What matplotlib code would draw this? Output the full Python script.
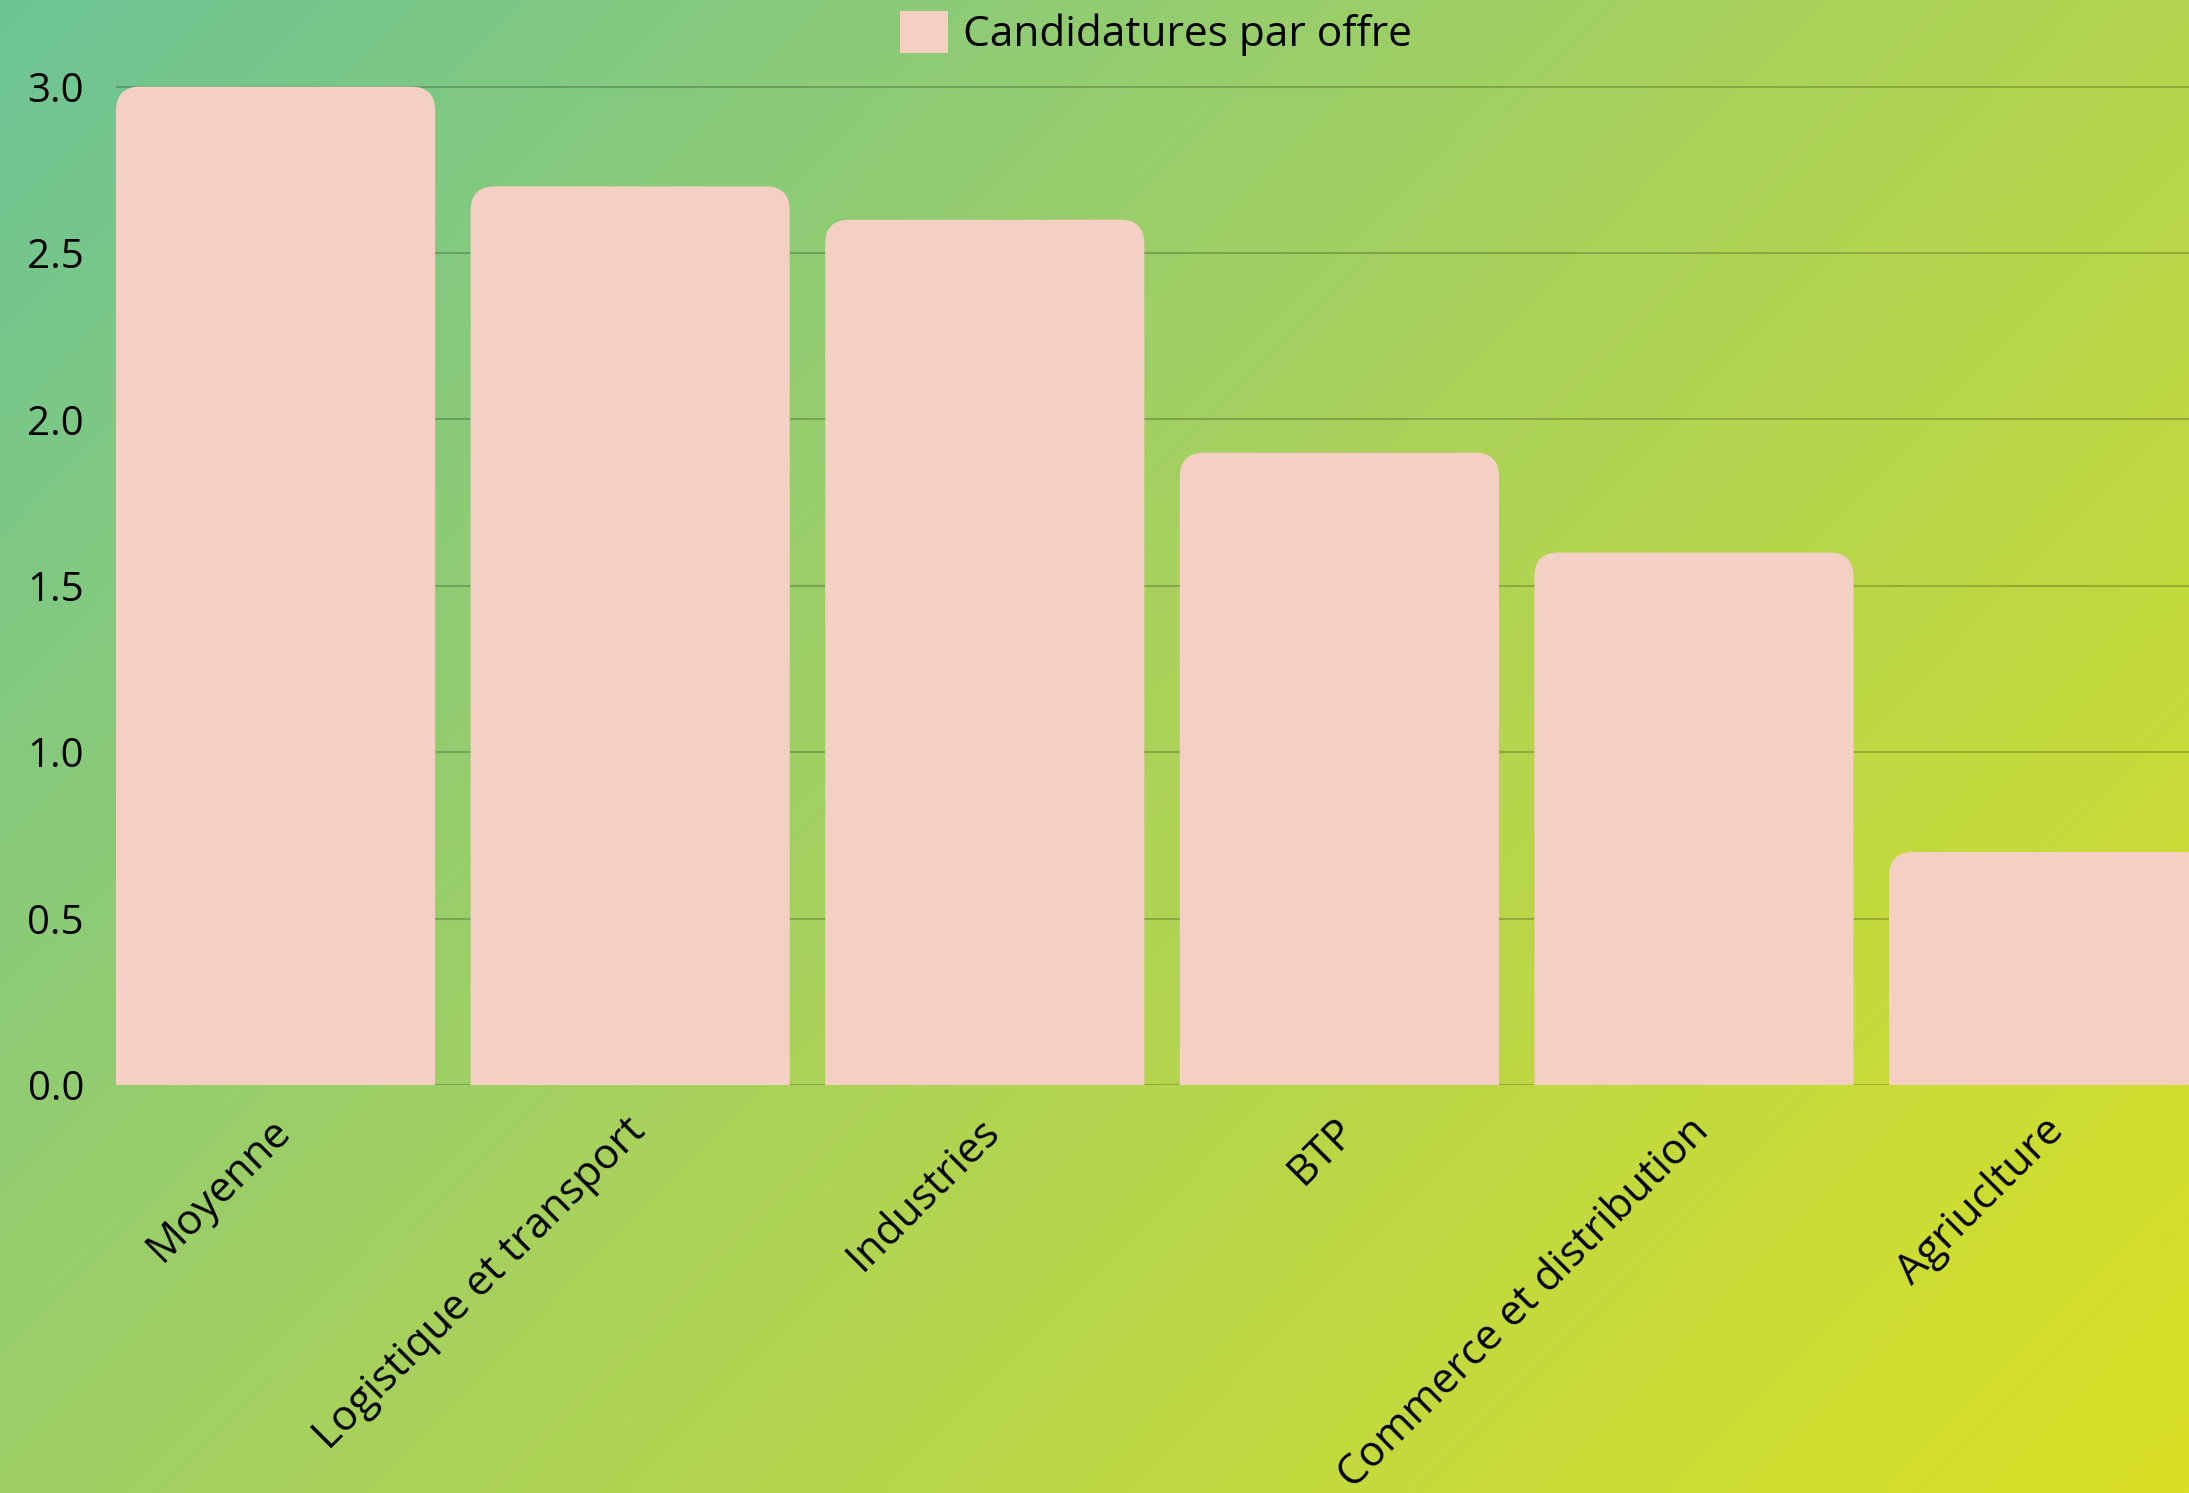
import numpy as np
import matplotlib
matplotlib.use("Agg")
import matplotlib.pyplot as plt
from matplotlib.path import Path
from matplotlib.patches import PathPatch, Patch
import matplotlib.transforms as mtransforms

# ---- data ----
categories = ["Moyenne", "Logistique et transport", "Industries", "BTP",
              "Commerce et distribution", "Agriuclture"]
values = [3.0, 2.7, 2.6, 1.9, 1.6, 0.7]
series_name = "Candidatures par offre"
yticks = [0.0, 0.5, 1.0, 1.5, 2.0, 2.5, 3.0]

BAR_COLOR = "#F4CFC4"
FONT = ["Open Sans", "DejaVu Sans"]
FS = 29
FS_X = 30.5

W_PX, H_PX = 2189, 1493
fig = plt.figure(figsize=(W_PX / 100, H_PX / 100), dpi=100)

# ---- gradient background ----
bg = fig.add_axes([0, 0, 1, 1], zorder=0)
bg.axis("off")
gh, gw = 300, 440
yy, xx = np.mgrid[0:1:gh * 1j, 0:1:gw * 1j]
t = 0.6 * xx + 0.4 * yy
stops_t = [0.0, 0.5, 1.0]
stops_c = np.array([[108, 196, 150], [170, 210, 90], [218, 224, 36]]) / 255.0
img = np.zeros((gh, gw, 3))
for k in range(3):
    img[..., k] = np.interp(t, stops_t, stops_c[:, k])
bg.imshow(img, aspect="auto", extent=[0, 1, 0, 1], origin="upper",
          interpolation="bilinear")
bg.set_xlim(0, 1)
bg.set_ylim(0, 1)

# ---- main axes ----
left = 116 / W_PX
bottom = 1 - 1085 / H_PX
height = (1085 - 70) / H_PX
ax = fig.add_axes([left, bottom, 1 - left, height], zorder=1)
ax.set_facecolor("none")
ax.set_xlim(-0.45, 5.396)
ax.set_ylim(0, 3.05)
for s in ax.spines.values():
    s.set_visible(False)

ax.set_yticks(yticks)
ax.set_yticklabels([f"{v:.1f}" for v in yticks], fontsize=FS, family=FONT)
ax.yaxis.grid(True, color="black", alpha=0.2, linewidth=1.5, zorder=0)
ax.set_axisbelow(True)
ax.tick_params(axis="y", length=0, pad=23)

x = np.arange(len(categories))
bars = ax.bar(x, values, width=0.9, color=BAR_COLOR, zorder=2)

# round the top corners
rx = 24 / 354.6
ry = 24 / 332.8
for rect in bars:
    x0 = rect.get_x()
    x1 = x0 + rect.get_width()
    h = rect.get_height()
    verts = [(x0, 0), (x0, h - ry), (x0, h), (x0 + rx, h), (x1 - rx, h),
             (x1, h), (x1, h - ry), (x1, 0), (x0, 0)]
    codes = [Path.MOVETO, Path.LINETO, Path.CURVE3, Path.CURVE3, Path.LINETO,
             Path.CURVE3, Path.CURVE3, Path.LINETO, Path.CLOSEPOLY]
    rect.set_visible(False)
    ax.add_patch(PathPatch(Path(verts, codes), facecolor=BAR_COLOR,
                           edgecolor="none", zorder=2))

ax.set_xticks(x)
ax.set_xticklabels(categories, fontsize=FS_X, family=FONT, rotation=45,
                   ha="right", rotation_mode="default")
ax.tick_params(axis="x", length=0, pad=18)
offset = mtransforms.ScaledTranslation(24 / 100, 0, fig.dpi_scale_trans)
for lab in ax.get_xticklabels():
    lab.set_transform(lab.get_transform() + offset)

fig.legend(handles=[Patch(facecolor=BAR_COLOR, edgecolor="none")],
           labels=[series_name], loc="center", bbox_to_anchor=(0.528, 0.9775),
           frameon=False, prop={"family": FONT, "size": FS_X},
           handlelength=1.15, handleheight=1.15, handletextpad=0.35)

fig.savefig("out.png", dpi=100)
